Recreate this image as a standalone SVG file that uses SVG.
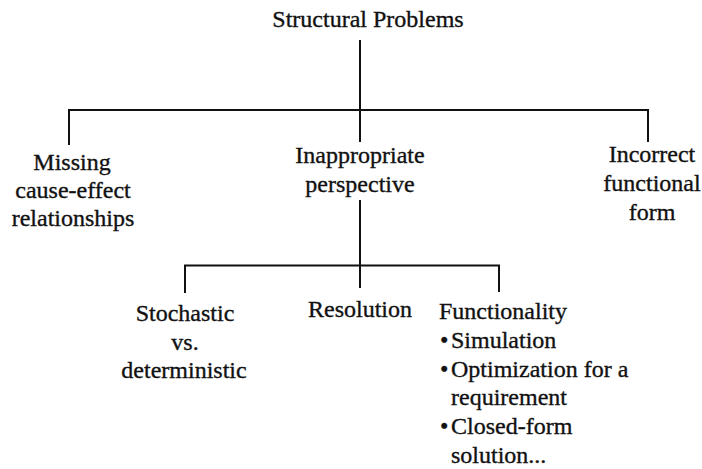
<svg xmlns="http://www.w3.org/2000/svg" width="702" height="469" viewBox="0 0 702 469">
<style>
.c{text-anchor:middle}
.ln{stroke:#111;stroke-width:2;fill:none}
</style>
<rect width="702" height="469" fill="#fff"/>
<g id="connectors">
<path class="ln" d="M360 40V142M69 145V110H648V142M360 200V288M185 293V265.5H499V292"/>
</g>
<g font-family="Liberation Serif, Times New Roman, serif" font-size="24" fill="#111" stroke="#111" stroke-width="0.35">
<g id="root"><text class="c" x="368" y="27">Structural Problems</text></g>
<g id="missing"><text class="c" x="72" y="170">Missing</text><text class="c" x="73" y="198">cause-effect</text><text class="c" x="73" y="226">relationships</text></g>
<g id="perspective"><text class="c" x="360" y="163">Inappropriate</text><text class="c" x="360" y="192">perspective</text></g>
<g id="incorrect"><text class="c" x="652" y="162">Incorrect</text><text class="c" x="652" y="191">functional</text><text class="c" x="652" y="220">form</text></g>
<g id="stochastic"><text class="c" x="185" y="321">Stochastic</text><text class="c" x="185" y="350">vs.</text><text class="c" x="184" y="378">deterministic</text></g>
<g id="resolution"><text class="c" x="360" y="317">Resolution</text></g>
<g id="functionality">
<text x="439" y="319">Functionality</text>
<text x="440" y="348">•<tspan x="451">Simulation</tspan></text>
<text x="440" y="377">•<tspan x="451">Optimization for a</tspan></text>
<text x="451" y="405">requirement</text>
<text x="440" y="434">•<tspan x="451">Closed-form</tspan></text>
<text x="451" y="463">solution...</text>
</g>
</g>
</svg>
